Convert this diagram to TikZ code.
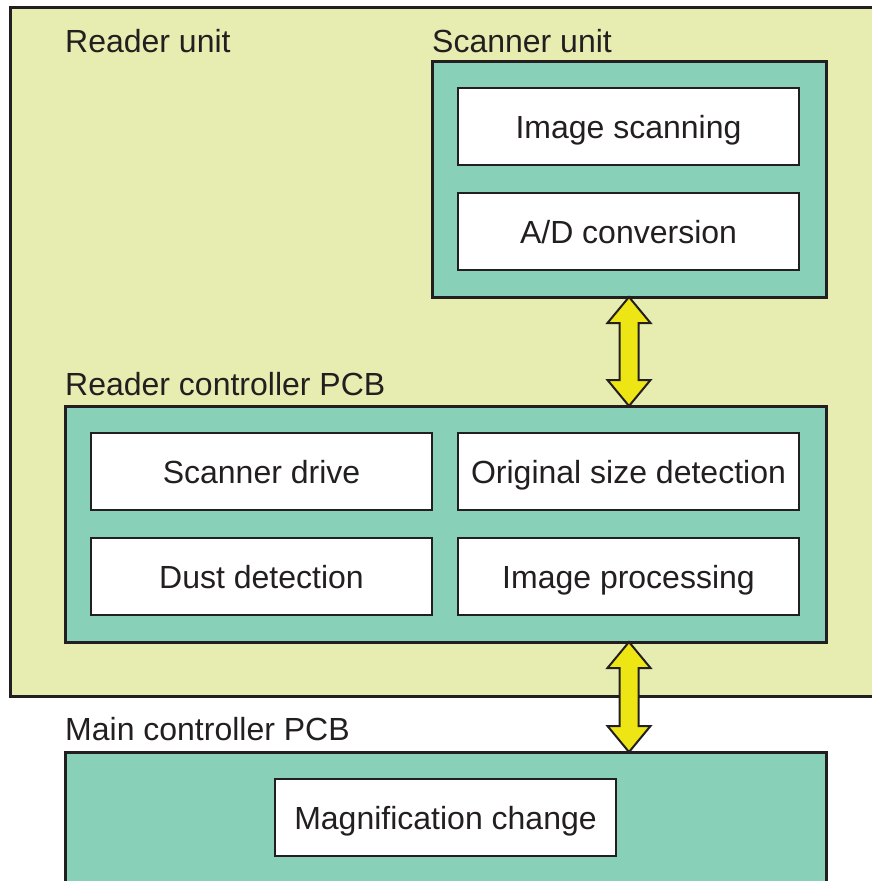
\documentclass[tikz,border=0pt]{standalone}
\usepackage{fontspec}
\setmainfont{Liberation Sans}
\usetikzlibrary{calc}
\definecolor{unitbg}{HTML}{E7EDB0}
\definecolor{pcbbg}{HTML}{88D0B7}
\definecolor{arrowyel}{HTML}{EEE614}
\definecolor{ink}{HTML}{231F20}
\tikzset{
  box/.style={draw=ink, line width=3pt, fill=#1},
  func/.style={draw=ink, line width=2.5pt, fill=white, minimum width=341pt, minimum height=77pt, inner sep=0pt, text height=30pt, text depth=6pt, font=\fontsize{32}{36}\selectfont, text=ink},
  lbl/.style={anchor=west, inner sep=0pt, font=\fontsize{32}{36}\selectfont, text=ink},
  bigarrow/.style={draw=ink, line width=2pt, fill=arrowyel, line join=miter}
}
\begin{document}
\begin{tikzpicture}[x=1pt,y=-1pt]
\useasboundingbox (0,0) rectangle (872,881);
\clip (0,0) rectangle (872,881);
\fill[white] (0,0) rectangle (872,881);
% Reader unit
\draw[box=unitbg] (10,7) rectangle (890,696);
\node[lbl] (lreader) at (65,41) {Reader unit};
% Scanner unit
\node[lbl] (lscanner) at (432,41) {Scanner unit};
\draw[box=pcbbg] (432,61) rectangle (826,297);
\coordinate (scanS) at (629,297);
\node[func] (imgscan) at (628.5,126.5) {Image scanning};
\node[func] (adconv) at (628.5,231.5) {A/D conversion};
% Reader controller PCB
\node[lbl] (lrcpcb) at (65,384) {Reader controller PCB};
\draw[box=pcbbg] (65,406) rectangle (826,642);
\coordinate (rcN) at (629,406);
\coordinate (rcS) at (629,642);
\node[func] (scandrive) at (261.5,471.5) {Scanner drive};
\node[func] (origsize) at (628.5,471.5) {Original size detection};
\node[func] (dust) at (261.5,576.5) {Dust detection};
\node[func] (imgproc) at (628.5,576.5) {Image processing};
% Main controller PCB
\node[lbl] (lmain) at (65,729) {Main controller PCB};
\draw[box=pcbbg] (65,752) rectangle (826,900);
\coordinate (mainN) at (629,752);
\node[func] (magchg) at (445.5,817.5) {Magnification change};
% Arrows
\foreach \a/\b in {scanS/rcN, rcS/mainN}{
  \draw[bigarrow] (\a) -- ($(\a)+(21.5,26)$) -- ($(\a)+(9.5,26)$) -- ($(\b)+(9.5,-26)$) -- ($(\b)+(21.5,-26)$) -- (\b)
    -- ($(\b)+(-21.5,-26)$) -- ($(\b)+(-9.5,-26)$) -- ($(\a)+(-9.5,26)$) -- ($(\a)+(-21.5,26)$) -- cycle;
}
\end{tikzpicture}
\end{document}
